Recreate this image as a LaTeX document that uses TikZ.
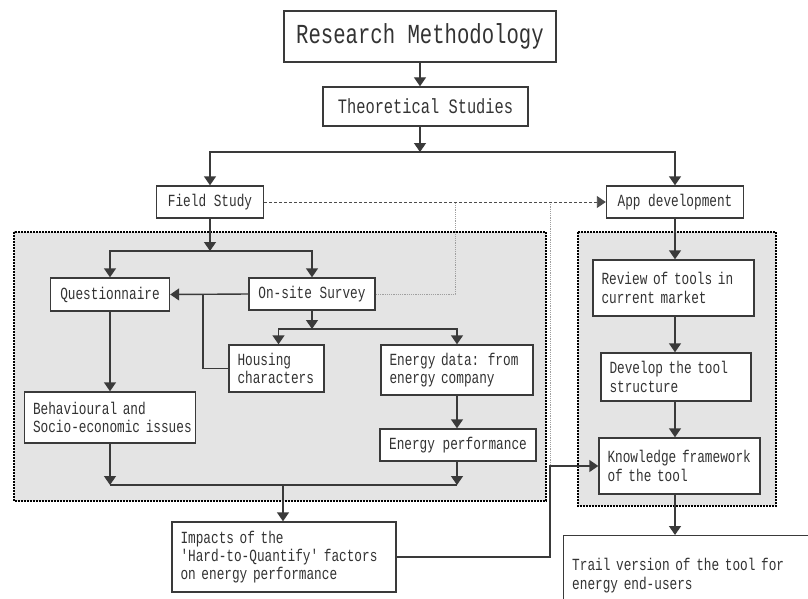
\documentclass[tikz,border=0pt]{standalone}
\usepackage{fontspec}
\newfontfamily\boxfont[FakeStretch=0.75]{Liberation Mono}
\usetikzlibrary{arrows.meta,calc}
\definecolor{bgfill}{HTML}{E4E4E4}
\definecolor{boxline}{HTML}{3A3A3A}
\definecolor{txt}{HTML}{333333}
\hyphenpenalty=10000
\exhyphenpenalty=10000
\hbadness=10000
\hfuzz=50pt
\tikzset{
  box/.style={draw=boxline, line width=1.4pt, fill=white, text=txt, inner sep=0pt,
    font=\boxfont\fontsize{17}{18.3}\selectfont},
  lbox/.style={box, align=left, text width=#1, inner xsep=8.5pt},
  conn/.style={draw=boxline, line width=1.4pt},
  arr/.style={conn, -{Triangle[width=12pt,length=9pt]}},
  region/.style={fill=bgfill, draw=black, line width=1.9pt, dash pattern=on 1.7pt off 1.3pt},
  graydot/.style={draw=gray!75, line width=1pt, dash pattern=on 1.2pt off 1pt},
  dasharr/.style={draw=black!70, line width=0.9pt, dash pattern=on 3pt off 2pt, -{Triangle[width=12pt,length=9pt]}}
}
\begin{document}
\begin{tikzpicture}[x=1pt,y=-1pt]
\useasboundingbox (0,0) rectangle (808,599);
\clip (0,0) rectangle (808,599);
\fill[white] (0,0) rectangle (808,599);

% shaded regions
\draw[region] (14,232) rectangle (546,501);
\draw[region] (578,232) rectangle (776,506);

% junction / bend coordinates
\coordinate (j1) at (420,152);
\coordinate (j2) at (210,251);
\coordinate (j3) at (312,329);
\coordinate (j4) at (283,485);
\coordinate (hq) at (203,295);
\coordinate (d1) at (455,202);
\coordinate (d2) at (550,202);
\coordinate (bend) at (550,466);

% grey dotted links
\draw[graydot] (d2) -- (bend);

% nodes
\node[box, minimum width=272, minimum height=51, font=\boxfont\fontsize{27.5}{30}\selectfont] (rm) at (420,36.5) {Research Methodology};
\node[box, minimum width=205, minimum height=39, font=\boxfont\fontsize{20.5}{22}\selectfont] (ts) at (425.5,106.5) {Theoretical Studies};
\node[box, minimum width=107, minimum height=32] (fs) at (210,202) {Field Study};
\node[box, minimum width=137, minimum height=32] (app) at (675,202) {App development};
\node[box, minimum width=119, minimum height=33] (q) at (110,294.5) {Questionnaire};
\node[box, minimum width=126, minimum height=32] (os) at (312,294) {On-site Survey};
\node[lbox=78pt, minimum height=47] (hc) at (276.5,368.5) {Housing\\characters};
\node[lbox=135pt, minimum height=50] (ed) at (457,370) {Energy data: from\\energy company};
\node[box, minimum width=156, minimum height=32] (ep) at (458,445) {Energy performance};
\node[lbox=154pt, minimum height=51] (beh) at (110,417.5) {Behavioural and\\\mbox{Socio-economic issues}};
\node[lbox=207pt, minimum height=70] (imp) at (284,557) {Impacts of the\\'Hard-to-Quantify' factors\\on energy performance};
\node[lbox=144pt, minimum height=56] (rev) at (673.5,288) {Review of tools in\\current market};
\node[lbox=133pt, minimum height=48] (dev) at (676,377) {Develop the tool\\structure};
\node[lbox=144pt, minimum height=56] (kn) at (679.5,466) {Knowledge framework\\of the tool};
\node[lbox=243pt, minimum height=80, anchor=north west] (tr) at (563,535) {Trail version of the tool for\\energy end-users};

% dotted / dashed links
\draw[graydot] (os.east) -| (d1);
\draw[dasharr] (fs.east) -- (app.west);

% connectors
\draw[arr] (rm.south) -- (rm.south |- ts.north);
\draw[arr] (j1 |- ts.south) -- (j1);
\draw[arr] (j1) -| (fs.north);
\draw[arr] (j1) -| (app.north);
\draw[arr] (fs.south) -- (j2);
\draw[arr] (j2) -| (q.north);
\draw[arr] (j2) -| (os.north);
\draw[arr] (os.west) -- (q.east);
\draw[conn] (hc.west) -| (hq);
\draw[arr] (q.south) -- (beh.north);
\draw[arr] (os.south) -- (j3);
\draw[arr] (j3) -| ([xshift=2pt]hc.north);
\draw[arr] (j3) -| (ed.north);
\draw[arr] (ed.south) -- (ed.south |- ep.north);
\draw[arr] (beh.south) -- (beh.south |- j4);
\draw[arr] (ed.south |- ep.south) -- (ed.south |- j4);
\draw[conn] (beh.south |- j4) -- (ed.south |- j4);
\draw[arr] (j4) -- (imp.north -| j4);
\draw[arr] (app.south) -- (app.south |- rev.north);
\draw[arr] (app.south |- rev.south) -- (app.south |- dev.north);
\draw[arr] (app.south |- dev.south) -- (app.south |- kn.north);
\draw[arr] (app.south |- kn.south) -- (app.south |- tr.north);
\draw[arr] (imp.east) -| (bend) -- (kn.west);
\end{tikzpicture}
\end{document}
